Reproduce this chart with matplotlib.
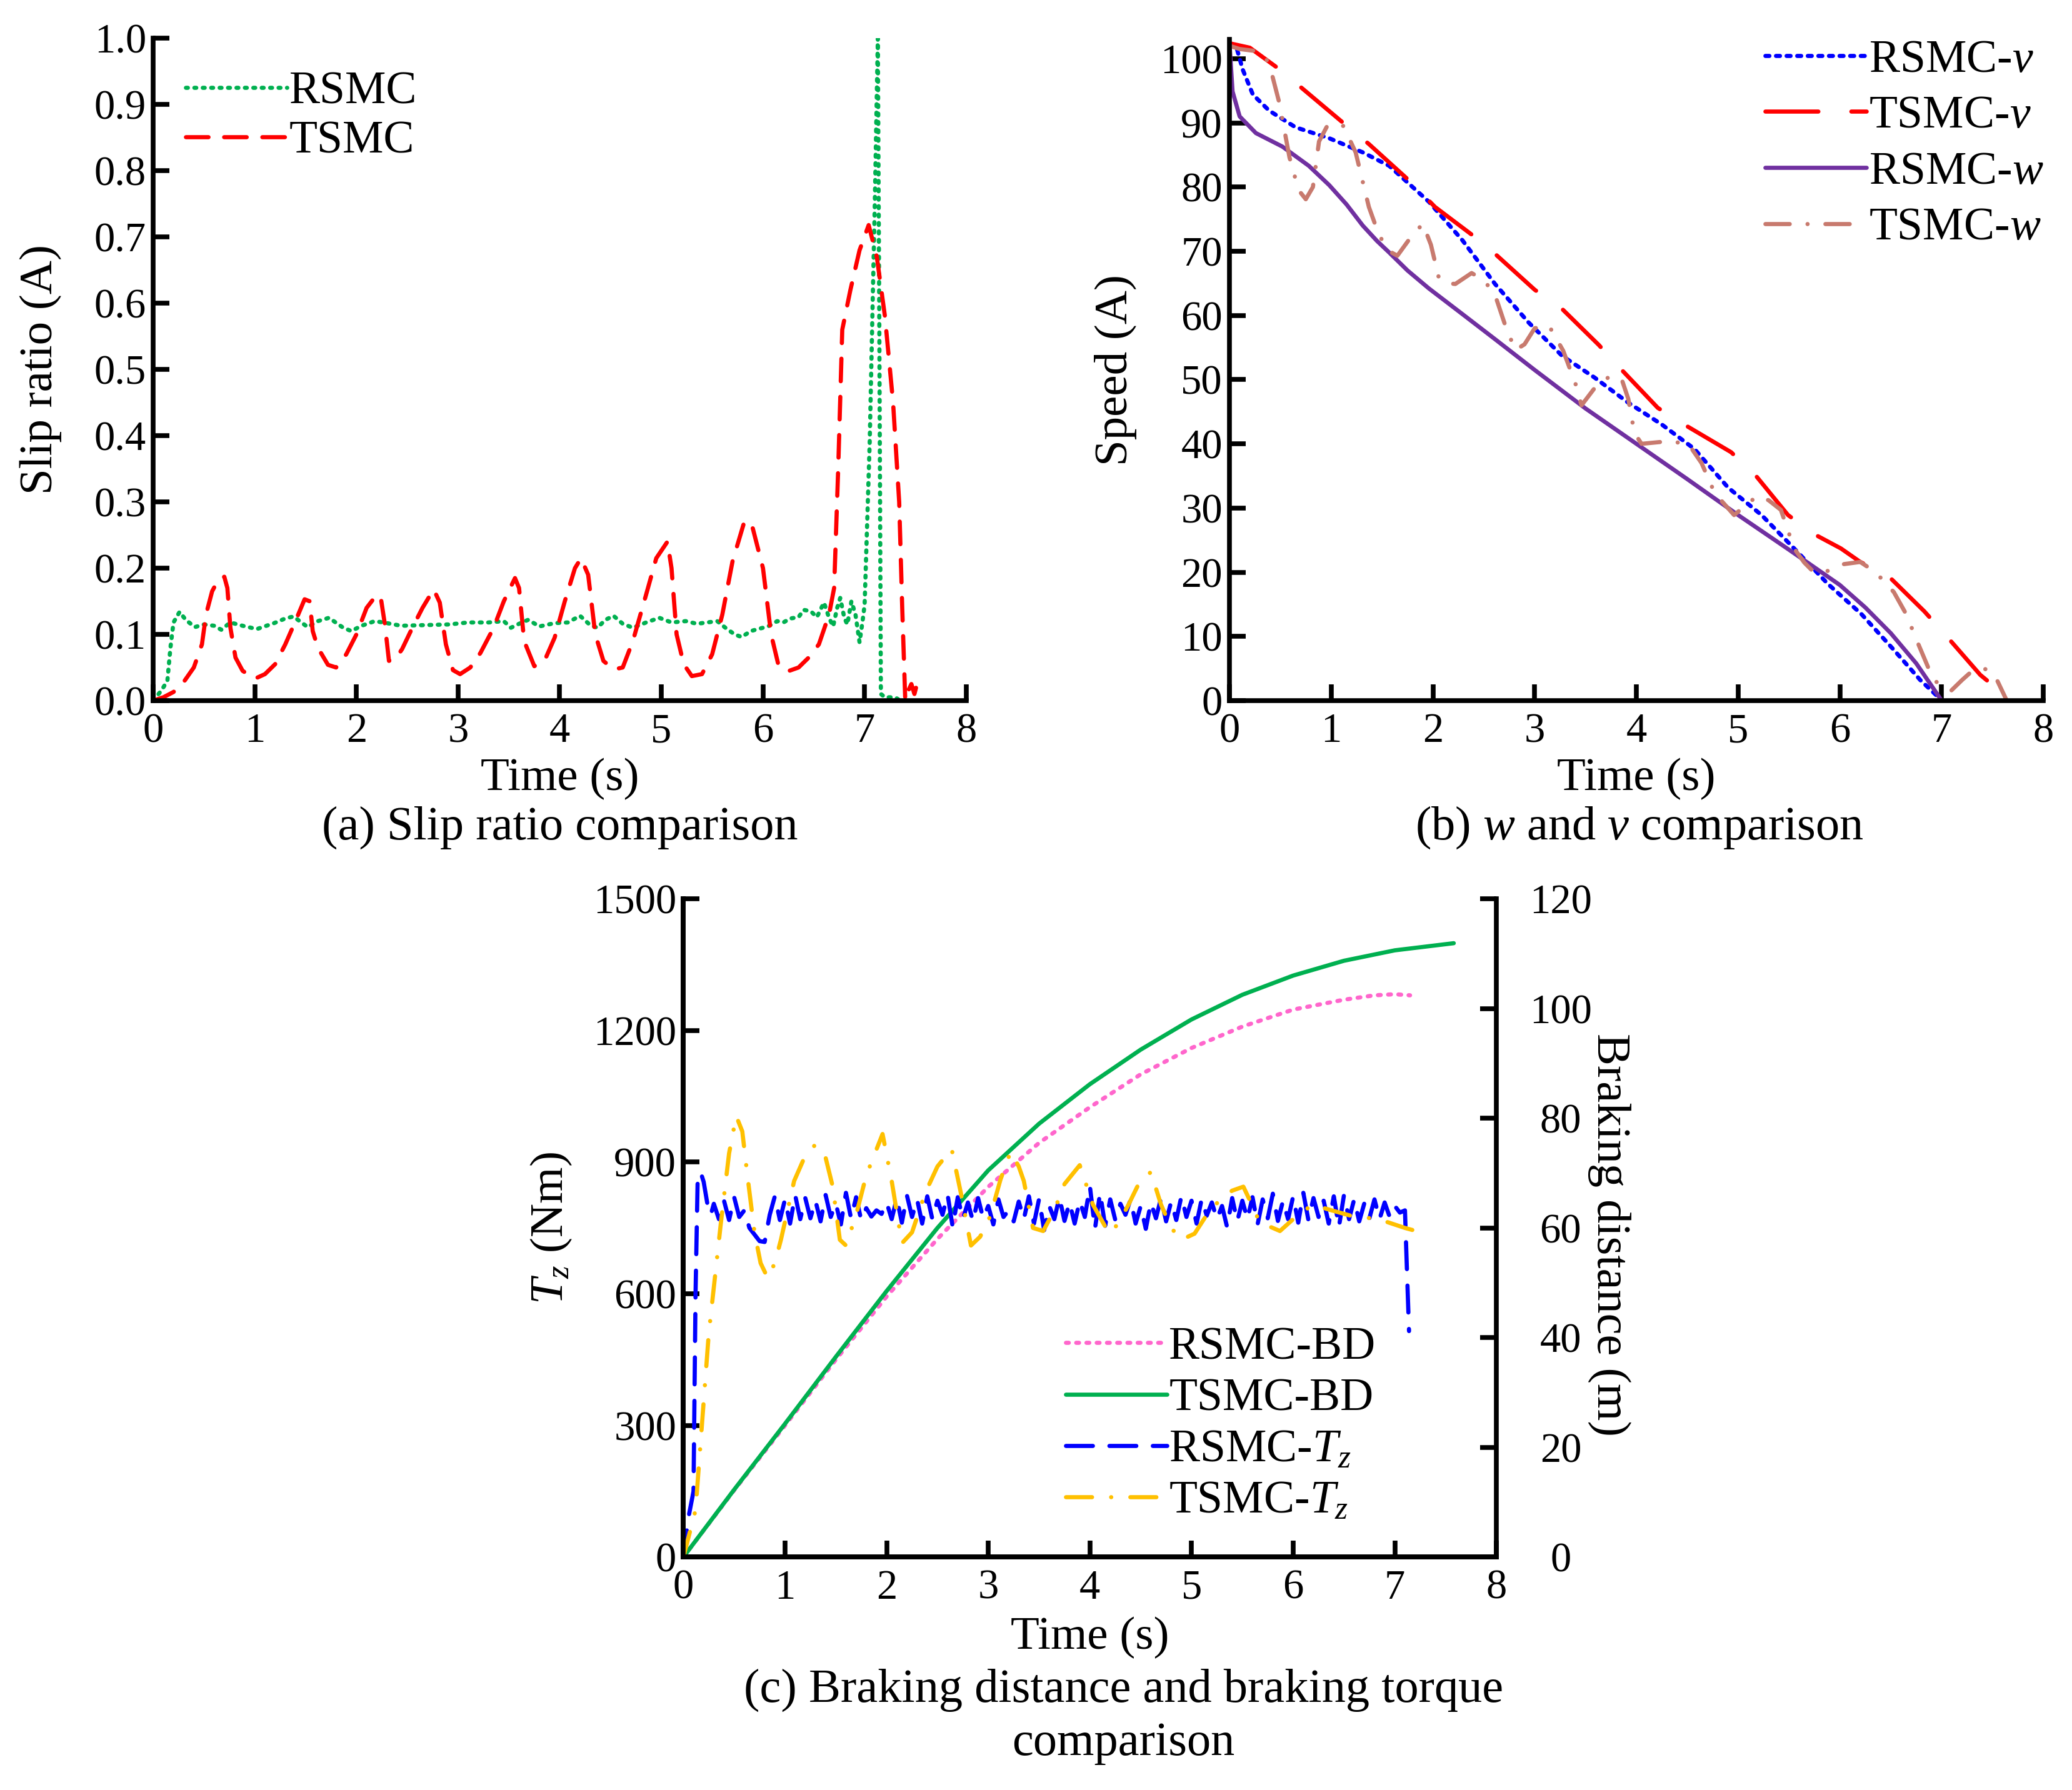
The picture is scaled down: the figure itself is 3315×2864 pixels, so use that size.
import numpy as np
import matplotlib
matplotlib.use("Agg")
import matplotlib.pyplot as plt

plt.rcParams["font.family"] = ["Liberation Serif", "DejaVu Serif"]
plt.rcParams["mathtext.fontset"] = "custom"
plt.rcParams["mathtext.rm"] = "Liberation Serif"
plt.rcParams["mathtext.it"] = "Liberation Serif:italic"
plt.rcParams["lines.scale_dashes"] = False
plt.rcParams["lines.dash_capstyle"] = "round"
plt.rcParams["lines.solid_capstyle"] = "round"

FS_TICK = 48
FS_LAB = 54
FS_LEG = 53
FS_CAP = 55
LW = 4.8
SW = 5.5

# ---- (a) slip ratio ----
slip_tsmc_t = [0, 0.1, 0.2, 0.3, 0.4, 0.48, 0.52, 0.58, 0.65, 0.7, 0.73, 0.76, 0.81, 0.88, 1.0,
               1.1, 1.2, 1.3, 1.4, 1.49, 1.54, 1.57, 1.62, 1.72, 1.8, 1.9, 2.0, 2.1, 2.2, 2.24,
               2.28, 2.32, 2.38, 2.45, 2.55, 2.65, 2.76, 2.82, 2.88, 2.95, 3.02, 3.12, 3.22, 3.35,
               3.45, 3.56, 3.6, 3.65, 3.75, 3.85, 3.95, 4.05, 4.15, 4.21, 4.28, 4.35, 4.43, 4.53,
               4.62, 4.72, 4.85, 4.95, 5.06, 5.1, 5.15, 5.22, 5.3, 5.4, 5.5, 5.6, 5.7, 5.82, 5.9,
               6.0, 6.08, 6.15, 6.24, 6.35, 6.45, 6.55, 6.65, 6.7, 6.74, 6.78, 6.86, 6.95, 7.04,
               7.12, 7.2, 7.28, 7.34, 7.37, 7.4, 7.43, 7.46, 7.49, 7.52, 7.55]
slip_tsmc = [0.0, 0.005, 0.013, 0.028, 0.05, 0.085, 0.13, 0.165, 0.185, 0.187, 0.17, 0.11, 0.065,
             0.045, 0.033, 0.04, 0.055, 0.085, 0.12, 0.153, 0.15, 0.105, 0.08, 0.054, 0.05, 0.07,
             0.1, 0.14, 0.16, 0.155, 0.115, 0.06, 0.062, 0.078, 0.11, 0.14, 0.168, 0.148, 0.085,
             0.046, 0.04, 0.05, 0.072, 0.11, 0.15, 0.185, 0.17, 0.09, 0.052, 0.06, 0.095, 0.15,
             0.2, 0.215, 0.19, 0.1, 0.06, 0.047, 0.05, 0.09, 0.16, 0.215, 0.24, 0.2, 0.1, 0.055,
             0.037, 0.04, 0.07, 0.13, 0.21, 0.272, 0.26, 0.2, 0.1, 0.055, 0.044, 0.05, 0.065,
             0.085, 0.13, 0.17, 0.35, 0.56, 0.62, 0.68, 0.718, 0.67, 0.58, 0.45, 0.3, 0.14, 0.0,
             0.015, 0.025, 0.01, 0.028, 0.02]

slip_rsmc_t = [0, 0.08, 0.14, 0.17, 0.2, 0.26, 0.32, 0.41, 0.5, 0.6, 0.67, 0.76, 0.88, 1.02, 1.19,
               1.3, 1.38, 1.52, 1.62, 1.73, 1.87, 1.95, 2.05, 2.18, 2.3, 2.44, 2.67, 2.91, 3.1, 3.3,
               3.45, 3.52, 3.6, 3.69, 3.8, 3.95, 4.08, 4.2, 4.3, 4.37, 4.45, 4.53, 4.62, 4.72, 4.85,
               4.98, 5.1, 5.24, 5.35, 5.45, 5.55, 5.63, 5.72, 5.79, 5.88, 5.95, 6.05, 6.14, 6.2,
               6.27, 6.35, 6.4, 6.47, 6.53, 6.6, 6.65, 6.69, 6.73, 6.76, 6.8, 6.83, 6.87, 6.91,
               6.95, 6.98, 7.0, 7.05, 7.1, 7.13, 7.145, 7.16, 7.2, 7.3, 7.35]
slip_rsmc = [0.0, 0.015, 0.03, 0.08, 0.118, 0.134, 0.122, 0.111, 0.115, 0.113, 0.107, 0.118,
             0.113, 0.108, 0.117, 0.124, 0.127, 0.111, 0.12, 0.125, 0.11, 0.105, 0.113, 0.12,
             0.117, 0.113, 0.114, 0.115, 0.118, 0.118, 0.12, 0.11, 0.116, 0.122, 0.112, 0.117,
             0.118, 0.128, 0.114, 0.11, 0.122, 0.128, 0.116, 0.11, 0.118, 0.125, 0.118, 0.12,
             0.116, 0.118, 0.12, 0.11, 0.1, 0.096, 0.105, 0.108, 0.112, 0.12, 0.118, 0.124,
             0.126, 0.137, 0.135, 0.126, 0.148, 0.125, 0.112, 0.14, 0.155, 0.125, 0.115, 0.15,
             0.13, 0.088, 0.12, 0.145, 0.39, 0.75, 1.0, 0.55, 0.01, 0.005, 0.005, 0.0]

# ---- (b) speeds ----
v_rsmc_t = [0, 0.07, 0.13, 0.23, 0.39, 0.65, 0.98, 1.31, 1.57, 1.96, 2.29, 2.61, 2.94, 3.27,
            3.59, 3.92, 4.25, 4.57, 4.9, 5.23, 5.55, 5.88, 6.21, 6.53, 6.79, 6.99]
v_rsmc = [102.4, 101.7, 98.3, 94.4, 91.9, 89.3, 87.6, 85.4, 83.3, 77.7, 71.7, 64.9, 58.9, 53.7,
          50.3, 46.4, 43.0, 39.2, 33.2, 28.9, 23.7, 18.2, 13.5, 7.9, 3.2, 0.2]

w_rsmc_t = [0, 0.03, 0.1, 0.26, 0.52, 0.78, 0.98, 1.15, 1.31, 1.45, 1.57, 1.75, 1.96, 2.29, 2.61,
            3.0, 3.5, 4.0, 4.5, 5.0, 5.5, 6.0, 6.25, 6.5, 6.75, 7.0]
w_rsmc = [102.4, 94.9, 91.0, 88.4, 86.3, 83.3, 80.3, 77.3, 74.0, 71.6, 69.8, 67.0, 64.2, 60.2,
          56.3, 51.5, 45.5, 40.0, 34.5, 28.9, 23.5, 18.0, 14.5, 10.5, 5.8, 0.0]

v_tsmc_t = [0, 0.2, 0.46, 0.69, 1.11, 1.37, 1.76, 2.02, 2.38, 2.61, 3.0, 3.27, 3.63, 3.85, 4.21,
            4.47, 4.93, 5.16, 5.49, 5.75, 6.01, 6.2, 6.47, 6.83, 7.05, 7.38, 7.64, 7.7]
v_tsmc = [102.4, 101.7, 98.7, 95.7, 90.1, 86.7, 81.1, 76.9, 72.6, 69.6, 64.0, 61.0, 55.4, 51.6,
          45.6, 43.0, 38.7, 35.3, 28.9, 25.9, 23.7, 21.6, 19.5, 13.9, 10.0, 4.0, 0.6, 0.0]

w_tsmc_t = [0, 0.1, 0.25, 0.35, 0.42, 0.49, 0.59, 0.68, 0.75, 0.82, 0.88, 0.96, 1.05, 1.12, 1.24,
            1.37, 1.47, 1.57, 1.65, 1.76, 1.9, 1.98, 2.06, 2.14, 2.22, 2.38, 2.5, 2.61, 2.72,
            2.81, 2.9, 3.0, 3.14, 3.28, 3.4, 3.46, 3.58, 3.72, 3.85, 3.92, 3.98, 4.05, 4.18,
            4.31, 4.51, 4.64, 4.77, 4.96, 5.08, 5.19, 5.3, 5.42, 5.55, 5.65, 5.75, 5.88, 6.01,
            6.2, 6.35, 6.53, 6.65, 6.76, 6.92, 7.09, 7.2, 7.32, 7.45, 7.55, 7.64]
w_tsmc = [102.0, 101.5, 101.2, 100.5, 97.4, 93.1, 84.6, 79.5, 78.1, 80.0, 87.1, 89.5, 89.9, 89.5,
          85.4, 76.9, 72.5, 70.0, 69.3, 71.7, 74.3, 71.0, 65.7, 65.0, 64.9, 66.6, 65.5, 63.2,
          58.0, 54.6, 55.5, 58.0, 58.4, 54.5, 49.4, 46.0, 48.5, 50.3, 50.3, 47.0, 41.7, 40.0,
          40.2, 40.4, 40.0, 37.0, 32.3, 28.9, 30.5, 31.9, 31.2, 29.7, 23.7, 21.5, 19.9, 20.2,
          21.2, 21.6, 20.0, 16.9, 13.5, 9.2, 3.2, 1.5, 3.2, 4.9, 4.9, 3.0, 0.0]

# ---- (c) braking distance and torque ----
bd_tsmc_t = [0, 0.5, 1, 1.5, 2, 2.5, 3, 3.5, 4, 4.5, 5, 5.5, 6, 6.5, 7, 7.58]
bd_tsmc = [0, 12.3, 24.3, 36.5, 48.5, 60.0, 70.5, 79.0, 86.2, 92.5, 98.0, 102.5, 106.0, 108.7,
           110.6, 111.9]
bd_rsmc_t = [0, 0.5, 1, 1.5, 2, 2.5, 3, 3.5, 4, 4.5, 5, 5.5, 6, 6.5, 6.8, 7, 7.15]
bd_rsmc = [0, 12.2, 24.0, 36.0, 47.5, 58.0, 67.5, 75.5, 82.0, 88.0, 92.8, 96.7, 99.8, 101.6,
           102.4, 102.6, 102.4]

tz_rsmc_start_t = [0, 0.05, 0.1, 0.12, 0.14, 0.17, 0.2, 0.24, 0.27]
tz_rsmc_start = [0, 90, 150, 600, 850, 877, 855, 800, 780]
tz_rsmc_mid_t = np.linspace(0.3, 7.1, 137)
tz_rsmc_mid = [805, 770, 812, 768, 820, 775, 790, 750, 735, 720,
               718, 780, 822, 768, 815, 760, 825, 770, 818, 772,
               812, 765, 825, 775, 806, 758, 830, 772, 820, 768,
               795, 776, 790, 782, 808, 770, 818, 762, 824, 775,
               815, 760, 822, 770, 812, 780, 826, 752, 820, 770,
               808, 765, 818, 772, 800, 758, 815, 775, 790, 765,
               810, 770, 822, 760, 816, 745, 800, 770, 820, 766,
               808, 760, 812, 775, 845, 748, 830, 755, 815, 768,
               805, 780, 815, 760, 800, 748, 808, 772, 818, 765,
               810, 768, 822, 775, 812, 760, 816, 778, 808, 770,
               800, 752, 818, 765, 812, 770, 820, 758, 815, 772,
               828, 766, 812, 770, 822, 762, 830, 768, 818, 775,
               812, 760, 822, 752, 825, 770, 815, 765, 806, 772,
               815, 770, 808, 775, 800, 785, 790]
tz_rsmc_end_t = [7.12, 7.14]
tz_rsmc_end = [650, 515]

tz_tsmc_t = [0, 0.12, 0.25, 0.37, 0.45, 0.52, 0.58, 0.63, 0.7, 0.76, 0.83, 0.9, 0.96, 1.09, 1.2,
             1.3, 1.4, 1.47, 1.54, 1.6, 1.7, 1.8, 1.96, 2.05, 2.15, 2.25, 2.38, 2.5, 2.64, 2.73,
             2.83, 2.92, 3.02, 3.12, 3.22, 3.3, 3.35, 3.44, 3.54, 3.65, 3.75, 3.9, 4.03, 4.19,
             4.28, 4.38, 4.5, 4.6, 4.7, 4.8, 4.9, 5.03, 5.15, 5.29, 5.4, 5.51, 5.6, 5.67, 5.87,
             6.0, 6.19, 6.38, 6.58, 6.84, 7.1, 7.35]
tz_tsmc = [0, 107, 509, 763, 920, 1005, 970, 870, 740, 670, 636, 670, 723, 857, 915, 940, 910,
           844, 723, 710, 780, 870, 964, 857, 715, 740, 830, 890, 930, 830, 710, 730, 777, 860,
           924, 890, 857, 750, 743, 790, 850, 893, 803, 737, 760, 803, 860, 877, 803, 750, 723,
           737, 780, 817, 835, 844, 800, 763, 743, 770, 803, 790, 777, 770, 750, 734]

C_GREEN = "#00B050"
C_RED = "#FF0000"
C_BLUE = "#0000FF"
C_PURPLE = "#7030A0"
C_BROWN = "#C87A6E"
C_PINK = "#FF66CC"
C_YELLOW = "#FFC000"


def style_axes(ax, right=False):
    ax.spines["top"].set_visible(False)
    if not right:
        ax.spines["right"].set_visible(False)
    for s in ax.spines.values():
        s.set_linewidth(SW)
    ax.tick_params(direction="in", length=19, width=SW, labelsize=FS_TICK)
    ax.tick_params(axis="x", pad=14)
    ax.tick_params(axis="y", pad=8)


fig = plt.figure(figsize=(33.16, 28.64), dpi=100)

# (a)
ax1 = fig.add_axes([0.0739, 0.6086, 0.3923, 0.3700])
ax1.plot(slip_rsmc_t, slip_rsmc, color=C_GREEN, lw=LW, ls=(0, (2.2, 7.5)), label="RSMC")
ax1.plot(slip_tsmc_t, slip_tsmc, color=C_RED, lw=LW, ls=(0, (26, 18)), label="TSMC")
ax1.set_xlim(0, 8)
ax1.set_ylim(0, 1.0)
ax1.set_xticks(range(9))
ax1.set_yticks(np.arange(0, 1.01, 0.1))
ax1.set_yticklabels([f"{v:.1f}" for v in np.arange(0, 1.01, 0.1)])
style_axes(ax1)
ax1.set_xlabel("Time (s)", fontsize=FS_LAB)
ax1.set_ylabel("Slip ratio (A)", fontsize=FS_LAB)
ax1.xaxis.set_label_coords(0.5, -0.087)
ax1.yaxis.set_label_coords(-0.112, 0.5)
ax1.legend(loc="upper left", bbox_to_anchor=(0.04, 0.95), frameon=False, fontsize=FS_LEG,
           handlelength=2.2, handletextpad=0.05, labelspacing=0.15, borderpad=0, borderaxespad=0)

# (b)
ax2 = fig.add_axes([0.5932, 0.6086, 0.3927, 0.3694])
ax2.plot(v_rsmc_t, v_rsmc, color=C_BLUE, lw=LW, ls=(0, (4.6, 7.6)), label="RSMC-$v$")
ax2.plot(v_tsmc_t, v_tsmc, color=C_RED, lw=LW, ls=(0, (61, 38)), label="TSMC-$v$")
ax2.plot(w_rsmc_t, w_rsmc, color=C_PURPLE, lw=LW, label="RSMC-$w$")
ax2.plot(w_tsmc_t, w_tsmc, color=C_BROWN, lw=LW, ls=(0, (28, 20.5, 0.1, 20.5)), label="TSMC-$w$")
ax2.set_xlim(0, 8)
ax2.set_ylim(0, 103)
ax2.set_xticks(range(9))
ax2.set_yticks(range(0, 101, 10))
style_axes(ax2)
ax2.set_xlabel("Time (s)", fontsize=FS_LAB)
ax2.set_ylabel("Speed (A)", fontsize=FS_LAB)
ax2.xaxis.set_label_coords(0.5, -0.087)
ax2.yaxis.set_label_coords(-0.114, 0.5)
ax2.legend(loc="upper right", bbox_to_anchor=(1.0, 1.0), frameon=False, fontsize=FS_LEG,
           handlelength=2.2, handletextpad=0.05, labelspacing=0.3, borderpad=0, borderaxespad=0)

# (c)
ax3 = fig.add_axes([0.3297, 0.1301, 0.3923, 0.3678])
ax4 = ax3.twinx()
l1, = ax4.plot(bd_rsmc_t, bd_rsmc, color=C_PINK, lw=LW, ls=(0, (3.2, 8.6)), label="RSMC-BD")
l2, = ax4.plot(bd_tsmc_t, bd_tsmc, color=C_GREEN, lw=LW, label="TSMC-BD")
tz_rsmc_t = list(tz_rsmc_start_t) + list(tz_rsmc_mid_t) + list(tz_rsmc_end_t)
tz_rsmc = list(tz_rsmc_start) + list(tz_rsmc_mid) + list(tz_rsmc_end)
l3, = ax3.plot(tz_rsmc_t, tz_rsmc, color=C_BLUE, lw=LW, ls=(0, (31, 19)), label="RSMC-$T_z$")
l4, = ax3.plot(tz_tsmc_t, tz_tsmc, color=C_YELLOW, lw=LW, ls=(0, (30, 22, 0.1, 22)),
               label="TSMC-$T_z$")
ax3.set_zorder(ax4.get_zorder() + 1)
ax3.patch.set_visible(False)
ax3.set_xlim(0, 8)
ax3.set_ylim(0, 1500)
ax4.set_ylim(0, 120)
ax3.set_xticks(range(9))
ax3.set_yticks(range(0, 1501, 300))
ax4.set_yticks(range(0, 121, 20))
style_axes(ax3, right=True)
style_axes(ax4, right=True)
ax3.spines["right"].set_visible(False)
ax4.tick_params(axis="y", pad=74)
for lab in ax4.get_yticklabels():
    lab.set_horizontalalignment("center")
ax3.set_xlabel("Time (s)", fontsize=FS_LAB)
ax3.set_ylabel("$T_z$ (Nm)", fontsize=FS_LAB)
ax4.set_ylabel("Braking distance (m)", fontsize=FS_LAB + 1, rotation=-90)
ax3.xaxis.set_label_coords(0.5, -0.09)
ax3.yaxis.set_label_coords(-0.135, 0.5)
ax4.yaxis.set_label_coords(1.165, 0.49)
ax3.legend(handles=[l1, l2, l3, l4], loc="upper left", bbox_to_anchor=(0.47, 0.35),
           frameon=False, fontsize=FS_LEG, handlelength=2.2, handletextpad=0.05,
           labelspacing=0.2, borderpad=0, borderaxespad=0)

fig.text(0.27, 0.5377, "(a) Slip ratio comparison", fontsize=FS_CAP, ha="center", va="center")
fig.text(0.791, 0.5377, "(b) $w$ and $v$ comparison", fontsize=FS_CAP, ha="center", va="center")
fig.text(0.542, 0.0408, "(c) Braking distance and braking torque\ncomparison", fontsize=FS_CAP,
         ha="center", va="center", multialignment="center", linespacing=1.3)

fig.savefig("out.png", dpi=100)
